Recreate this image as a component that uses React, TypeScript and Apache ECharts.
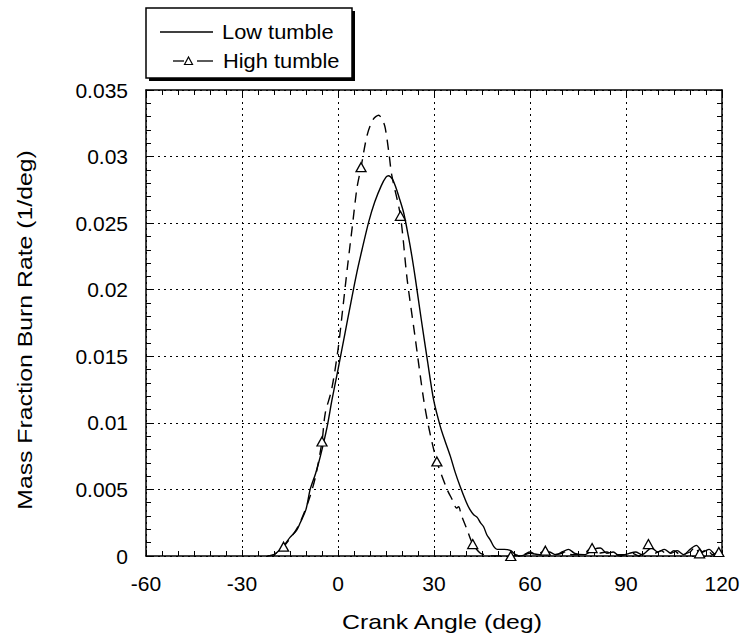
import React, { useEffect, useRef } from "react";
import * as echarts from "echarts";

// ---- data ----
const xTicks = [-60, -30, 0, 30, 60, 90, 120];
const yTicks = [0, 0.005, 0.01, 0.015, 0.02, 0.025, 0.03, 0.035];

const lowX = [-22, -20, -18, -16.5, -15, -13, -11.8, -10, -8.7, -7, -5.5, -3.4, -1.9, 0, 2, 4, 5.9, 7.5, 9.6, 11.5, 13.5, 15, 15.8, 17, 17.9, 19, 20.5, 22, 23.1, 24.2, 26, 28, 29.9, 32, 33.5, 35.1, 36.6, 38.2, 40, 41.2, 42.4, 43.5, 44.5, 45.5, 46.5, 47.6, 48.7, 49.7, 52, 54, 55.5, 57, 60, 63, 66, 68, 70, 72, 74, 77, 80, 82, 84, 86, 88, 91, 93, 95, 98, 100, 102, 104, 106, 108, 110, 112, 114, 116, 118, 120];
const lowY = [0, 0.0001, 0.0005, 0.0009, 0.0014, 0.0019, 0.0025, 0.0035, 0.005, 0.0062, 0.0075, 0.0097, 0.0117, 0.014, 0.0165, 0.019, 0.0213, 0.023, 0.0251, 0.0266, 0.0278, 0.02845, 0.02856, 0.0283, 0.0278, 0.027, 0.0258, 0.024, 0.0225, 0.0208, 0.0178, 0.0146, 0.0117, 0.0097, 0.0086, 0.0075, 0.0063, 0.0052, 0.0041, 0.0035, 0.0031, 0.0029, 0.0025, 0.0022, 0.0016, 0.0012, 0.0007, 0.0005, 0.0005, 0.0004, 0.0001, 0, 0.0002, 0.0001, 0.0003, 0.0001, 0.0003, 0.0005, 0.0002, 0.0001, 0.0005, 0.0006, 0.0002, 0.0003, 0, 0.0002, 0.0003, 0.0001, 0.0006, 0.0003, 0.0005, 0.0002, 0.0004, 0.0001, 0.0005, 0.0008, 0.0003, 0.0005, 0.0001, 0.0003];

const highX = [-22, -20, -18.5, -17, -15, -13, -11, -8.7, -7, -5, -4, -2, 0, 1.5, 3, 4.5, 5.9, 7.2, 9.1, 11, 12.7, 14, 14.8, 16, 16.8, 19.5, 21.6, 24, 26.8, 28.5, 30.9, 34.1, 36, 37, 37.7, 38.5, 40.3, 42.1, 44.5, 46, 48, 50, 54, 58, 60, 62, 64.8, 67, 70, 71.6, 73, 76, 79.4, 81, 84, 86, 90, 92, 94, 97, 99, 101, 103, 105, 107, 110, 111.6, 113, 115.4, 117, 119, 120];
const highY = [0, 0.0001, 0.0004, 0.0007, 0.0013, 0.002, 0.003, 0.0045, 0.006, 0.0086, 0.0107, 0.0125, 0.0155, 0.0186, 0.0218, 0.0248, 0.0276, 0.0292, 0.0316, 0.0328, 0.0331, 0.0327, 0.0321, 0.0301, 0.0286, 0.02555, 0.0208, 0.0166, 0.0117, 0.0095, 0.0071, 0.005, 0.0041, 0.0036, 0.0037, 0.0031, 0.002, 0.0009, 0.0002, 0.0001, 0, 0, 0, 0.0001, 0.0003, 0.0001, 0.0004, 0.0001, 0.0002, 0.0004, 0.0001, 0.0001, 0.0006, 0.0002, 0.0003, 0.0001, 0.0001, 0.0002, 0, 0.0009, 0.0002, 0.0004, 0.0001, 0.0004, 0.0001, 0.0003, 0.0007, 0.0002, 0.0005, 0.0001, 0.0003, 0.0001];
const highMarkers = [-17, -5, 7.2, 19.5, 30.9, 42.1, 54, 64.8, 79.4, 97, 113, 119];

const seriesNames = ["Low tumble", "High tumble"];
const xTitle = "Crank Angle (deg)";
const yTitle = "Mass Fraction Burn Rate (1/deg)";

const FONT = "'Liberation Sans', Arial, Helvetica, sans-serif";

export default function App() {
  const ref = useRef<HTMLDivElement>(null);

  useEffect(() => {
    if (!ref.current) return;
    const chart = echarts.init(ref.current, undefined, { renderer: "svg" });

    const lowData = lowX.map((x, i) => [x, lowY[i]]);
    const markerSet = new Set(highMarkers);
    const highData = highX.map((x, i) =>
      markerSet.has(x)
        ? { value: [x, highY[i]], symbol: "triangle" }
        : { value: [x, highY[i]], symbol: "none" }
    );

    const black = "#000";
    const axisCommon = {
      axisLine: { show: true, onZero: false, lineStyle: { color: black, width: 1.5 } },
      axisTick: { show: true, inside: true, length: 6, lineStyle: { color: black, width: 1 } },
    };
    const grid = [2, 4];

    chart.setOption({
      animation: false,
      backgroundColor: "#fff",
      grid: { left: 146, right: 21, top: 90, bottom: 86, containLabel: false },
      xAxis: [
        {
          type: "value",
          position: "bottom",
          min: xTicks[0],
          max: xTicks[xTicks.length - 1],
          interval: 30,
          ...axisCommon,
          minorTick: { show: true, splitNumber: 6, length: 5, lineStyle: { color: black, width: 1 } },
          splitLine: { show: true, lineStyle: { color: black, width: 1, type: grid } },
          axisLabel: { color: black, fontSize: 21, fontFamily: FONT, margin: 17 },
        },
        {
          type: "value",
          position: "top",
          min: xTicks[0],
          max: xTicks[xTicks.length - 1],
          interval: 30,
          ...axisCommon,
          minorTick: { show: true, splitNumber: 6, length: 5, lineStyle: { color: black, width: 1 } },
          splitLine: { show: false },
          axisLabel: { show: false },
        },
      ],
      yAxis: [
        {
          type: "value",
          position: "left",
          min: yTicks[0],
          max: yTicks[yTicks.length - 1],
          interval: 0.005,
          ...axisCommon,
          minorTick: { show: true, splitNumber: 5, length: 5, lineStyle: { color: black, width: 1 } },
          splitLine: { show: true, lineStyle: { color: black, width: 1, type: grid } },
          axisLabel: {
            color: black,
            fontSize: 21,
            fontFamily: FONT,
            margin: 18,
            formatter: (v: number) => String(+v.toFixed(3)),
          },
        },
        {
          type: "value",
          position: "right",
          min: yTicks[0],
          max: yTicks[yTicks.length - 1],
          interval: 0.005,
          ...axisCommon,
          minorTick: { show: true, splitNumber: 5, length: 5, lineStyle: { color: black, width: 1 } },
          splitLine: { show: false },
          axisLabel: { show: false },
        },
      ],
      series: [
        {
          name: seriesNames[0],
          type: "line",
          xAxisIndex: 0,
          yAxisIndex: 0,
          data: lowData,
          symbol: "none",
          smooth: 0.3,
          lineStyle: { color: black, width: 1.4, type: "solid" },
          z: 3,
        },
        {
          name: seriesNames[1],
          type: "line",
          xAxisIndex: 0,
          yAxisIndex: 0,
          data: highData,
          symbol: "triangle",
          symbolSize: [10, 9],
          showSymbol: true,
          smooth: 0.3,
          lineStyle: { color: black, width: 1.4, type: [10, 7] },
          itemStyle: { color: "#fff", borderColor: black, borderWidth: 1.3, borderType: "solid" },
          z: 4,
        },
      ],
      graphic: [
        // legend box shadow + box
        { type: "rect", shape: { x: 149, y: 11, width: 206, height: 70 }, style: { fill: black }, z: 10 },
        { type: "rect", shape: { x: 146, y: 8, width: 206, height: 70 }, style: { fill: "#fff", stroke: black, lineWidth: 1.5 }, z: 11 },
        { type: "line", shape: { x1: 160, y1: 32, x2: 213, y2: 32 }, style: { stroke: black, lineWidth: 1.3 }, z: 12 },
        { type: "line", shape: { x1: 173, y1: 61, x2: 184, y2: 61 }, style: { stroke: black, lineWidth: 1.3 }, z: 12 },
        { type: "polygon", shape: { points: [[184.5, 64.5], [192.5, 64.5], [188.5, 57]] }, style: { fill: "#fff", stroke: black, lineWidth: 1.2 }, z: 12 },
        { type: "line", shape: { x1: 197, y1: 61, x2: 213, y2: 61 }, style: { stroke: black, lineWidth: 1.3 }, z: 12 },
        { type: "text", x: 222, y: 32, scaleX: 1.04, style: { text: seriesNames[0], fill: black, font: `21px ${FONT}`, verticalAlign: "middle", align: "left" }, z: 12 },
        { type: "text", x: 223, y: 61, scaleX: 1.04, style: { text: seriesNames[1], fill: black, font: `21px ${FONT}`, verticalAlign: "middle", align: "left" }, z: 12 },
        // axis titles
        { type: "text", x: 442, y: 622, scaleX: 1.24, style: { text: xTitle, fill: black, font: `20px ${FONT}`, align: "center", verticalAlign: "middle" }, z: 12 },
        { type: "text", x: 25, y: 330, rotation: Math.PI / 2, scaleX: 1.24, style: { text: yTitle, fill: black, font: `20px ${FONT}`, align: "center", verticalAlign: "middle" }, z: 12 },
      ],
    });

    return () => chart.dispose();
  }, []);

  return (
    <div
      ref={ref}
      style={{ position: "fixed", left: 0, top: 0, width: 743, height: 642, background: "#fff" }}
    />
  );
}
